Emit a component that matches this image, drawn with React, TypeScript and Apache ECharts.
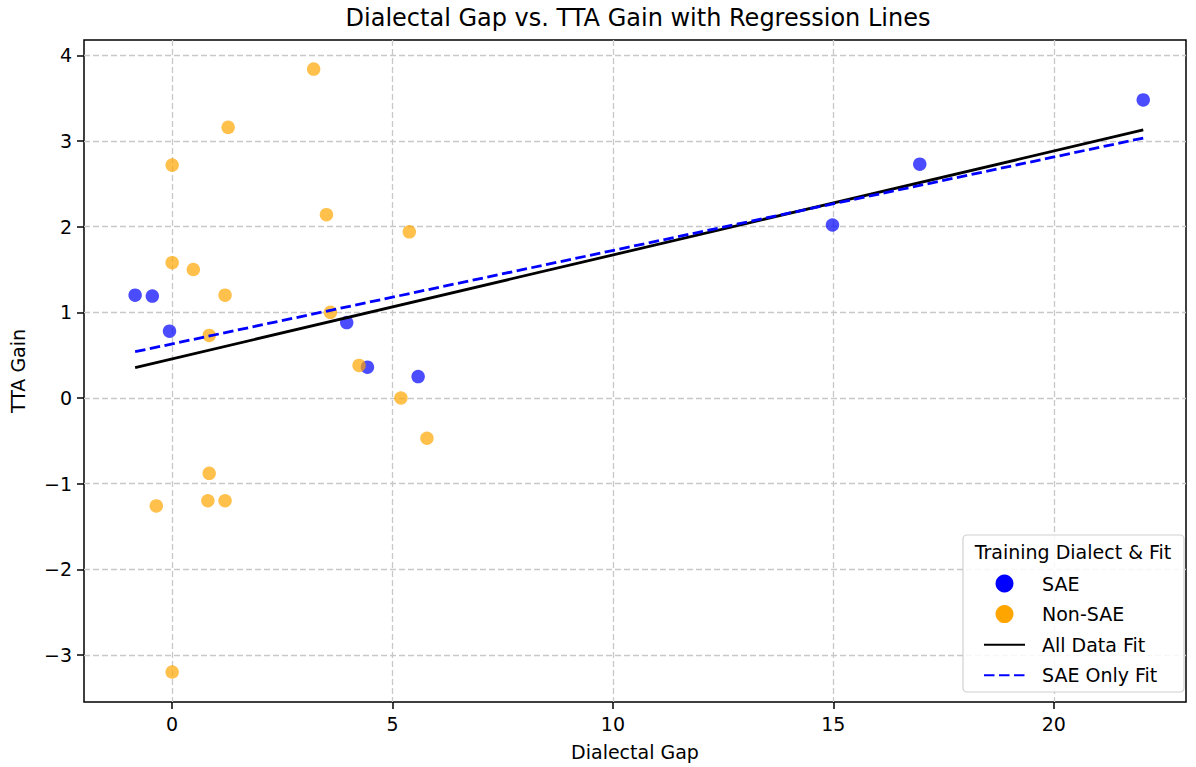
import React, { useEffect, useRef } from "react";
import * as echarts from "echarts";

const FONT = "DejaVu Sans";

// Data
const saePoints: number[][] = [
  [-0.84, 1.2], [-0.45, 1.19], [-0.06, 0.78], [3.96, 0.88], [4.43, 0.36],
  [5.58, 0.25], [14.98, 2.02], [16.96, 2.73], [22.03, 3.48],
];
const nonSaePoints: number[][] = [
  [3.21, 3.84], [1.27, 3.16], [0.0, 2.72], [3.5, 2.14], [5.38, 1.94],
  [0.0, 1.58], [0.48, 1.5], [1.2, 1.2], [3.59, 1.0], [0.84, 0.73],
  [4.24, 0.38], [5.19, 0.0], [5.78, -0.47], [0.84, -0.88], [0.81, -1.2],
  [1.2, -1.2], [-0.36, -1.26], [0.0, -3.2],
];
const allDataFit: number[][] = [[-0.84, 0.355], [22.03, 3.13]];
const saeOnlyFit: number[][] = [[-0.84, 0.54], [22.03, 3.035]];

const xTicks = [0, 5, 10, 15, 20];
const yTicks = [-3, -2, -1, 0, 1, 2, 3, 4];
const xRange = [-2, 23];
const yRange = [-3.55, 4.18];

export default function App() {
  const ref = useRef<HTMLDivElement>(null);
  useEffect(() => {
    if (!ref.current) return;
    const chart = echarts.init(ref.current, null, { renderer: "svg" });
    const gridLine = { show: true, lineStyle: { color: "#c8c8c8", width: 1.3, type: [6, 3] } };
    chart.setOption({
      animation: false,
      backgroundColor: "#ffffff",
      textStyle: { fontFamily: FONT },
      grid: {
        left: 83, right: 10, top: 40, bottom: 65,
        show: true, borderColor: "#000", borderWidth: 1.5, backgroundColor: "transparent",
      },
      xAxis: {
        type: "value",
        min: xRange[0], max: xRange[1],
        name: "Dialectal Gap",
        nameLocation: "middle",
        nameGap: 40,
        nameTextStyle: { fontFamily: FONT, fontSize: 19, color: "#000" },
        axisLine: { show: false, onZero: false },
        axisTick: { show: true, length: 7, lineStyle: { color: "#000", width: 1.5 }, customValues: xTicks },
        axisLabel: { fontFamily: FONT, fontSize: 19, color: "#000", margin: 12, customValues: xTicks },
        splitLine: gridLine,
      },
      yAxis: {
        type: "value",
        min: yRange[0], max: yRange[1],
        name: "TTA Gain",
        nameLocation: "middle",
        nameGap: 57,
        nameTextStyle: { fontFamily: FONT, fontSize: 19, color: "#000" },
        axisLine: { show: false, onZero: false },
        axisTick: { show: true, length: 7, lineStyle: { color: "#000", width: 1.5 }, customValues: yTicks },
        axisLabel: {
          fontFamily: FONT, fontSize: 19, color: "#000", margin: 12, customValues: yTicks,
          formatter: (v: number) => (v < 0 ? "\u2212" + Math.abs(v) : String(v)),
        },
        splitLine: gridLine,
      },
      legend: {
        orient: "vertical",
        left: 983,
        top: 574,
        padding: 0,
        itemWidth: 41,
        itemHeight: 18,
        itemGap: 11.6,
        z: 10,
        textStyle: { fontFamily: FONT, fontSize: 19, color: "#000", lineHeight: 18, padding: [0, 0, 0, 12] },
        data: [
          { name: "SAE", icon: "circle", itemStyle: { color: "#0000ff", opacity: 1 } },
          { name: "Non-SAE", icon: "circle", itemStyle: { color: "#ffa500", opacity: 1 } },
          { name: "All Data Fit", itemStyle: { opacity: 0 } },
          { name: "SAE Only Fit", itemStyle: { opacity: 0 } },
        ],
      },
      graphic: [
        {
          type: "text",
          x: 638, y: 18,
          z: 10,
          style: {
            text: "Dialectal Gap vs. TTA Gain with Regression Lines",
            font: `24px "${FONT}"`,
            fill: "#000",
            align: "center",
            verticalAlign: "middle",
          },
        },
        {
          type: "rect",
          z: 8,
          shape: { x: 963, y: 535, width: 221, height: 157, r: 4 },
          style: { fill: "rgba(255,255,255,0.85)", stroke: "#d0d0d0", lineWidth: 1.2 },
        },
        {
          type: "text",
          z: 10,
          x: 1073, y: 552,
          style: {
            text: "Training Dialect & Fit",
            font: `19px "${FONT}"`,
            fill: "#000",
            align: "center",
            verticalAlign: "middle",
          },
        },
      ],
      series: [
        {
          name: "SAE",
          type: "scatter",
          data: saePoints,
          symbol: "circle",
          symbolSize: 13.5,
          itemStyle: { color: "#0000ff", opacity: 0.7 },
          z: 3,
        },
        {
          name: "Non-SAE",
          type: "scatter",
          data: nonSaePoints,
          symbol: "circle",
          symbolSize: 13.5,
          itemStyle: { color: "#ffa500", opacity: 0.7 },
          z: 3,
        },
        {
          name: "All Data Fit",
          type: "line",
          data: allDataFit,
          symbol: "none",
          lineStyle: { color: "#000", width: 2.8, type: "solid" },
          itemStyle: { color: "#000" },
          z: 4,
        },
        {
          name: "SAE Only Fit",
          type: "line",
          data: saeOnlyFit,
          symbol: "none",
          lineStyle: { color: "#0000ff", width: 2.8, type: [10.5, 4.5] },
          itemStyle: { color: "#0000ff" },
          z: 4,
        },
      ],
    });
    return () => chart.dispose();
  }, []);
  return (
    <div
      ref={ref}
      style={{ position: "absolute", left: 0, top: 0, width: 1196, height: 767 }}
    />
  );
}
